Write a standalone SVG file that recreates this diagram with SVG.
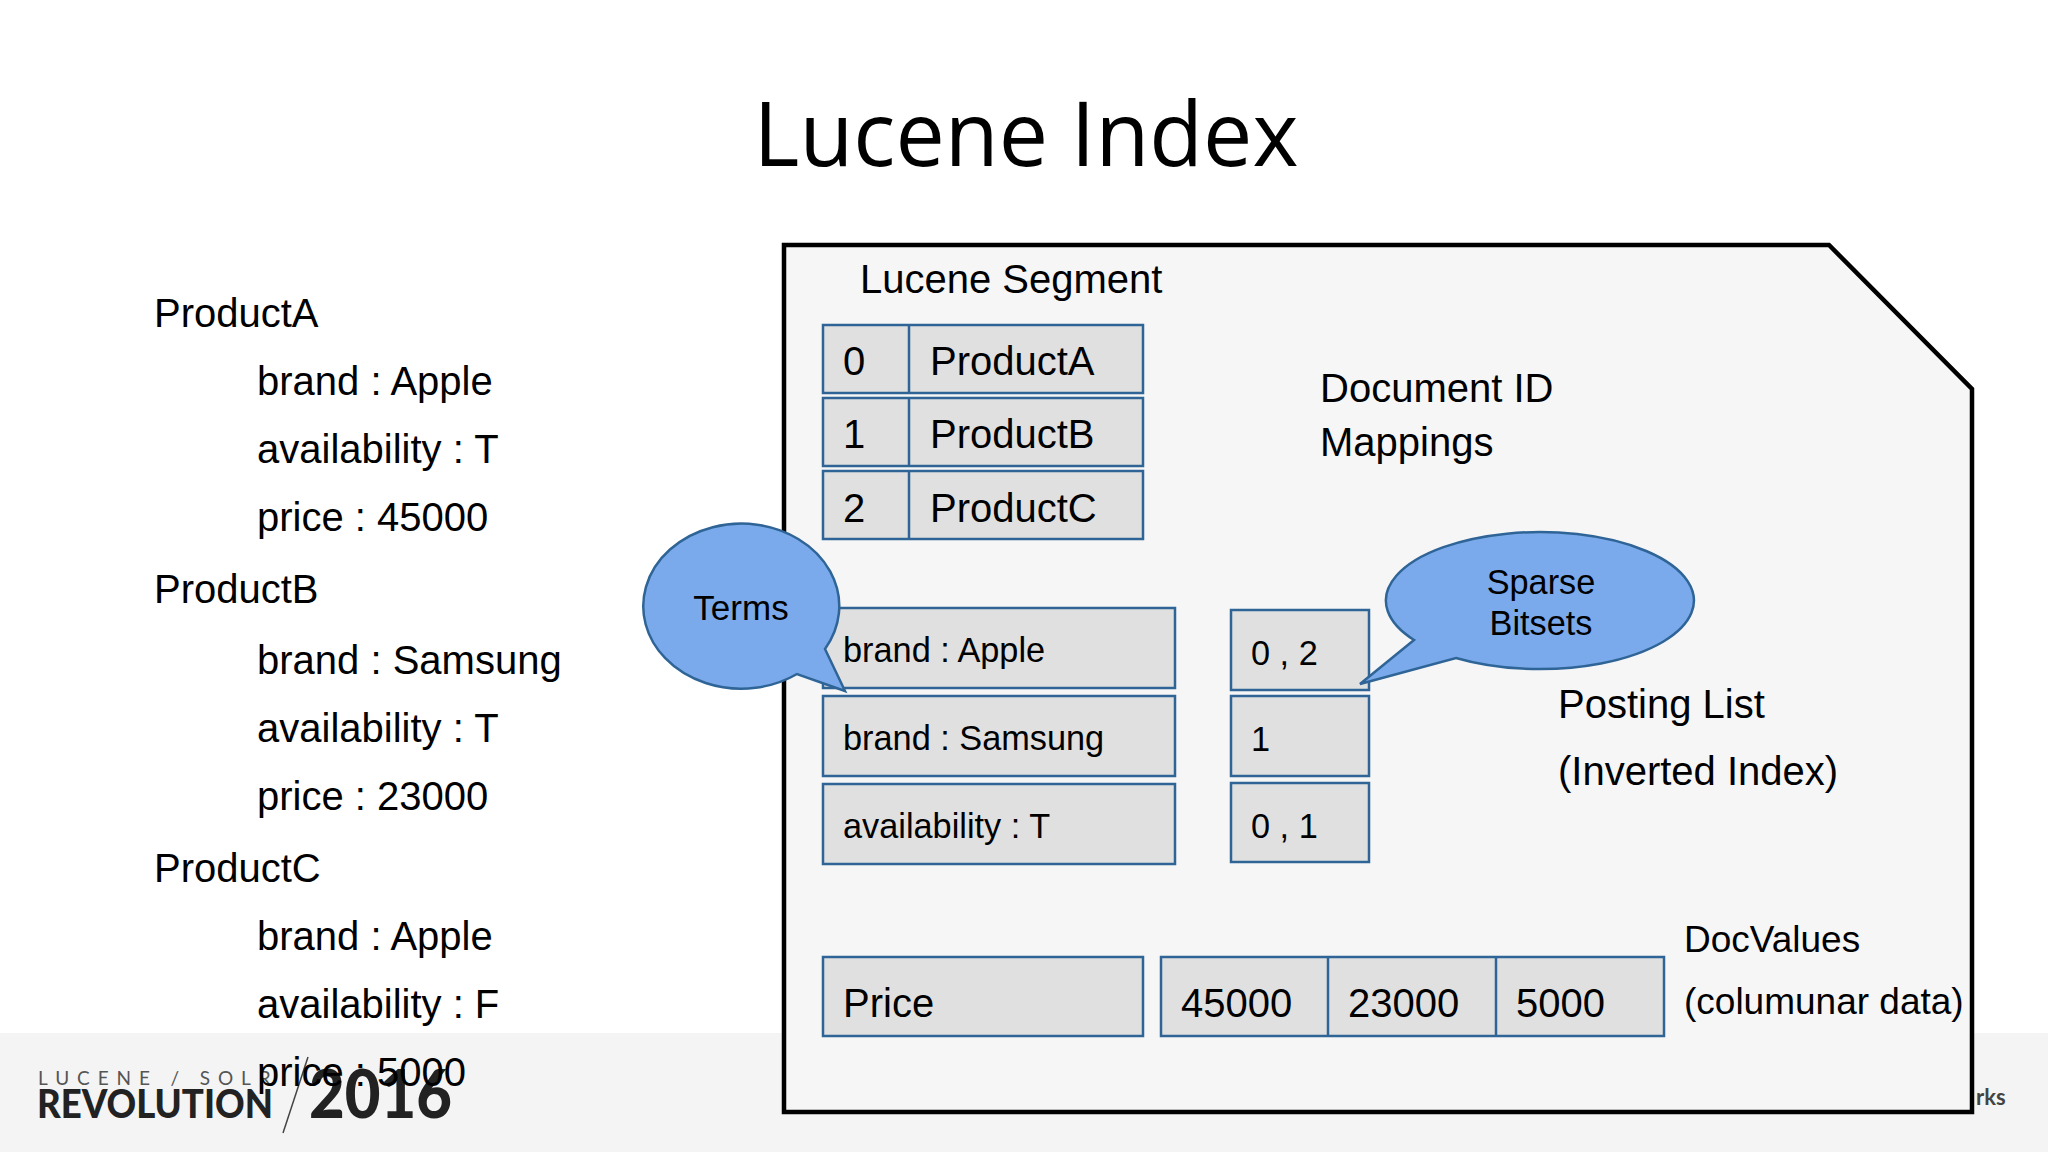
<svg xmlns="http://www.w3.org/2000/svg" width="2048" height="1152" viewBox="0 0 2048 1152">
<style>
text{font-family:"Liberation Sans",Arial,sans-serif;fill:#000}
.t{font-size:40px}
.c{font-size:40px}
.d{font-size:37px}
.s{font-size:34.3px}
.box{fill:#e0e0e0;stroke:#2f6496;stroke-width:2.5}
.bub{fill:#7aaaec;stroke:#2f6496;stroke-width:2.5}
.m{text-anchor:middle}
</style>
<rect width="2048" height="1152" fill="#fff"/>
<rect id="footer" y="1033" width="2048" height="119" fill="#f4f4f4"/>
<g id="logo">
<text x="38" y="1085" style="font-family:Lato,sans-serif;font-size:19px;letter-spacing:7.9px;fill:#555">LUCENE / SOLR</text>
<text x="37" y="1118" style="font-family:Lato,sans-serif;font-weight:900;font-size:39px;fill:#222" textLength="236" lengthAdjust="spacingAndGlyphs">REVOLUTION</text>
<line x1="308" y1="1057" x2="283" y2="1133" stroke="#444" stroke-width="1.5"/>
<text x="309" y="1118" style="font-family:Lato,sans-serif;font-weight:900;font-size:66px;fill:#222" textLength="143" lengthAdjust="spacingAndGlyphs">2016</text>
<text x="1976" y="1105" style="font-family:Lato,sans-serif;font-weight:700;font-size:22px;fill:#444">rks</text>
</g>
<text id="title" x="1026" y="166" class="m" style="font-family:'Open Sans','Noto Sans',sans-serif;font-size:89px" textLength="545" lengthAdjust="spacingAndGlyphs">Lucene Index</text>
<g id="documents" class="t">
<text x="154" y="327">ProductA</text>
<text x="257" y="395">brand : Apple</text>
<text x="257" y="463">availability : T</text>
<text x="257" y="531">price : 45000</text>
<text x="154" y="603">ProductB</text>
<text x="257" y="674">brand : Samsung</text>
<text x="257" y="742">availability : T</text>
<text x="257" y="810">price : 23000</text>
<text x="154" y="882">ProductC</text>
<text x="257" y="950">brand : Apple</text>
<text x="257" y="1018">availability : F</text>
<text x="257" y="1086">price : 5000</text>
</g>
<g id="segment">
<path d="M784 245H1829L1972 389V1112H784Z" fill="#f6f6f7" stroke="#000" stroke-width="4.5"/>
<text x="860" y="293" class="c">Lucene Segment</text>
</g>
<g id="doc-ids">
<rect class="box" x="823" y="325" width="320" height="68"/><line class="box" x1="909" y1="325" x2="909" y2="393"/>
<rect class="box" x="823" y="398" width="320" height="68"/><line class="box" x1="909" y1="398" x2="909" y2="466"/>
<rect class="box" x="823" y="471" width="320" height="68"/><line class="box" x1="909" y1="471" x2="909" y2="539"/>
<g class="t">
<text x="843" y="375">0</text><text x="930" y="375">ProductA</text>
<text x="843" y="448">1</text><text x="930" y="448">ProductB</text>
<text x="843" y="522">2</text><text x="930" y="522">ProductC</text>
</g>
<text x="1320" y="402" class="t">Document ID</text>
<text x="1320" y="456" class="t">Mappings</text>
</g>
<g id="terms">
<rect class="box" x="823" y="608" width="352" height="80"/>
<rect class="box" x="823" y="696" width="352" height="80"/>
<rect class="box" x="823" y="784" width="352" height="80"/>
<g class="s">
<text x="843" y="662">brand : Apple</text>
<text x="843" y="750">brand : Samsung</text>
<text x="843" y="838">availability : T</text>
</g>
</g>
<g id="postings">
<rect class="box" x="1231" y="610" width="138" height="80"/>
<rect class="box" x="1231" y="696" width="138" height="80"/>
<rect class="box" x="1231" y="783" width="138" height="79"/>
<g class="s">
<text x="1251" y="665">0 , 2</text>
<text x="1251" y="751">1</text>
<text x="1251" y="838">0 , 1</text>
</g>
<text x="1558" y="718" class="t">Posting List</text>
<text x="1558" y="785" class="t">(Inverted Index)</text>
</g>
<g id="docvalues">
<rect class="box" x="823" y="957" width="320" height="79"/>
<rect class="box" x="1161" y="957" width="503" height="79"/>
<line class="box" x1="1328" y1="957" x2="1328" y2="1036"/>
<line class="box" x1="1496" y1="957" x2="1496" y2="1036"/>
<g class="t">
<text x="843" y="1017">Price</text>
<text x="1181" y="1017">45000</text>
<text x="1348" y="1017">23000</text>
<text x="1516" y="1017">5000</text>
</g>
<g class="d">
<text x="1684" y="952">DocValues</text>
<text x="1684" y="1014">(columunar data)</text>
</g>
</g>
<g id="terms-callout">
<path class="bub" d="M825 649L845 691L797 674A98 82.5 0 1 1 825 649Z"/>
<text x="741" y="620" class="s m" style="font-size:35px">Terms</text>
</g>
<g id="bitsets-callout">
<path class="bub" d="M1414 640L1360 684L1456 658A154 68.5 0 1 0 1414 640Z"/>
<text x="1541" y="594" class="s m">Sparse</text>
<text x="1541" y="635" class="s m">Bitsets</text>
</g>
</svg>
